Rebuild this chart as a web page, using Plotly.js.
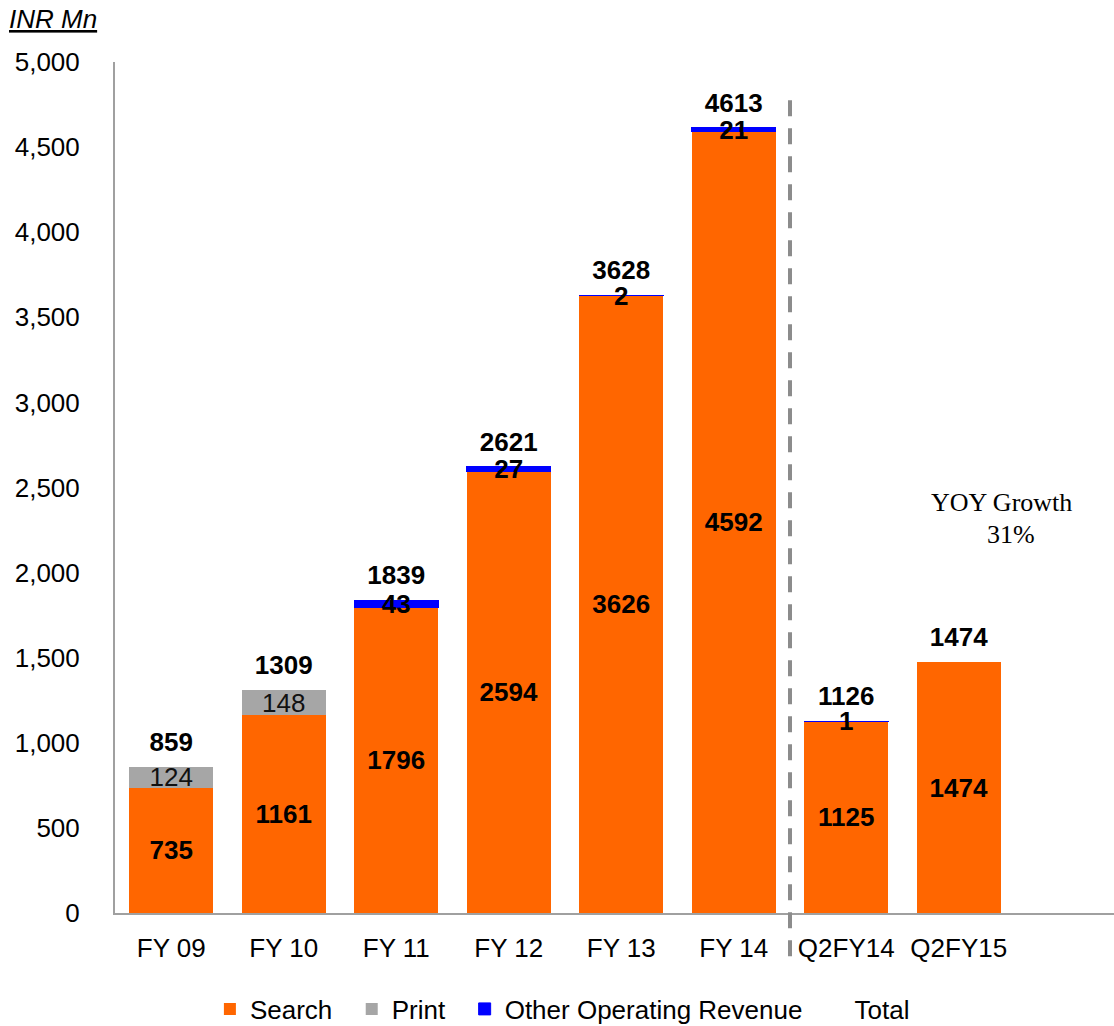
<!DOCTYPE html>
<html>
<head>
<meta charset="utf-8">
<script src="https://cdn.plot.ly/plotly-3.0.1.min.js"></script>
<style>html,body{margin:0;padding:0;background:#fff;overflow:hidden;}#chart{width:1114px;height:1046px;}</style>
</head>
<body>
<div id="chart"></div>
<script>
const categories = ["FY 09", "FY 10", "FY 11", "FY 12", "FY 13", "FY 14", "Q2FY14", "Q2FY15"];
const search = [735, 1161, 1796, 2594, 3626, 4592, 1125, 1474];
const print = [124, 148, null, null, null, null, null, null];
const other = [null, null, 43, 27, 2, 21, 1, null];
const total = [859, 1309, 1839, 2621, 3628, 4613, 1126, 1474];
const yTicks = [0, 500, 1000, 1500, 2000, 2500, 3000, 3500, 4000, 4500, 5000];

const FONT = "Liberation Sans, Arial, sans-serif";
const SERIF = "Liberation Serif, Times New Roman, serif";
const NB = "\u00a0";
const lab = v => (v === null || v === undefined) ? "" : String(v);

const traces = [
  {
    type: "bar", name: "Search" + NB + NB, x: categories, y: search,
    marker: {color: "#FF6600"},
    text: search.map(lab), textposition: "inside", insidetextanchor: "middle",
    textangle: 0, constraintext: "none",
    textfont: {family: FONT, size: 26, color: "#000", weight: "bold"},
    hoverinfo: "skip"
  },
  {
    type: "bar", name: "Print" + NB + NB, x: categories, y: print,
    marker: {color: "#A6A6A6"},
    text: print.map(lab), textposition: "inside", insidetextanchor: "middle",
    textangle: 0, constraintext: "none",
    textfont: {family: FONT, size: 26, color: "#111"},
    hoverinfo: "skip"
  },
  {
    type: "bar", name: "Other Operating Revenue" + NB, x: categories, y: other,
    marker: {color: "#0000FF", line: {color: "#0000FF", width: 1}},
    text: other.map(lab), textposition: "inside", insidetextanchor: "middle",
    textangle: 0, constraintext: "none",
    textfont: {family: FONT, size: 26, color: "#000", weight: "bold"},
    hoverinfo: "skip"
  },
  {
    type: "scatter", mode: "lines", name: "Total", x: categories, y: total,
    line: {color: "rgba(0,0,0,0)", width: 0},
    hoverinfo: "skip"
  },
  {
    type: "scatter", mode: "markers+text", name: "Total labels", x: categories, y: total,
    marker: {size: 14, opacity: 0, color: "#fff"},
    text: total.map(lab), textposition: "top center",
    textfont: {family: FONT, size: 26, color: "#000", weight: "bold"},
    showlegend: false, hoverinfo: "skip"
  }
];

const layout = {
  width: 1114, height: 1046,
  margin: {l: 115, r: 0, t: 62, b: 133, pad: 0},
  paper_bgcolor: "#fff", plot_bgcolor: "#fff",
  barmode: "stack", bargap: 0.253,
  font: {family: FONT, size: 26, color: "#000"},
  showlegend: true,
  legend: {
    orientation: "h", traceorder: "normal",
    x: 0.095, xanchor: "left", y: -(1009 - 913) / 851, yanchor: "middle",
    font: {family: FONT, size: 26, color: "#000"},
    bgcolor: "rgba(0,0,0,0)", borderwidth: 0
  },
  xaxis: {
    type: "category", categoryorder: "array", categoryarray: categories,
    range: [-0.5, 8.38], fixedrange: true,
    showline: true, linecolor: "#A0A0A0", linewidth: 2,
    showgrid: false, zeroline: false, ticks: "",
    ticklabelstandoff: 11,
    tickfont: {family: FONT, size: 26, color: "#000"}
  },
  yaxis: {
    range: [0, 5000], fixedrange: true,
    tickmode: "array", tickvals: yTicks, ticktext: yTicks.map(v => v.toLocaleString("en-US")),
    showline: true, linecolor: "#A0A0A0", linewidth: 2,
    showgrid: false, zeroline: false, ticks: "",
    ticklabelstandoff: 28,
    tickfont: {family: FONT, size: 26, color: "#000"}
  },
  shapes: [
    {type: "line", xref: "x", yref: "paper", x0: 5.5, x1: 5.5, y0: 0.955, y1: -0.052,
     line: {color: "#8C8C8C", width: 4, dash: "16px,12px"}}
  ],
  annotations: [
    {xref: "paper", yref: "paper", x: -0.108, y: 1.0505, xanchor: "left", yanchor: "middle",
     text: "INR Mn", showarrow: false,
     font: {family: FONT, size: 26, color: "#000", style: "italic", lineposition: "under"}},
    {xref: "paper", yref: "paper", x: 0.887, y: (913 - 502) / 851, xanchor: "center", yanchor: "middle",
     text: "YOY Growth", showarrow: false,
     font: {family: SERIF, size: 26, color: "#000"}},
    {xref: "paper", yref: "paper", x: 0.897, y: (913 - 534) / 851, xanchor: "center", yanchor: "middle",
     text: "31%", showarrow: false,
     font: {family: SERIF, size: 26, color: "#000"}}
  ]
};

Plotly.newPlot("chart", traces, layout, {staticPlot: true, displayModeBar: false});
</script>
</body>
</html>
